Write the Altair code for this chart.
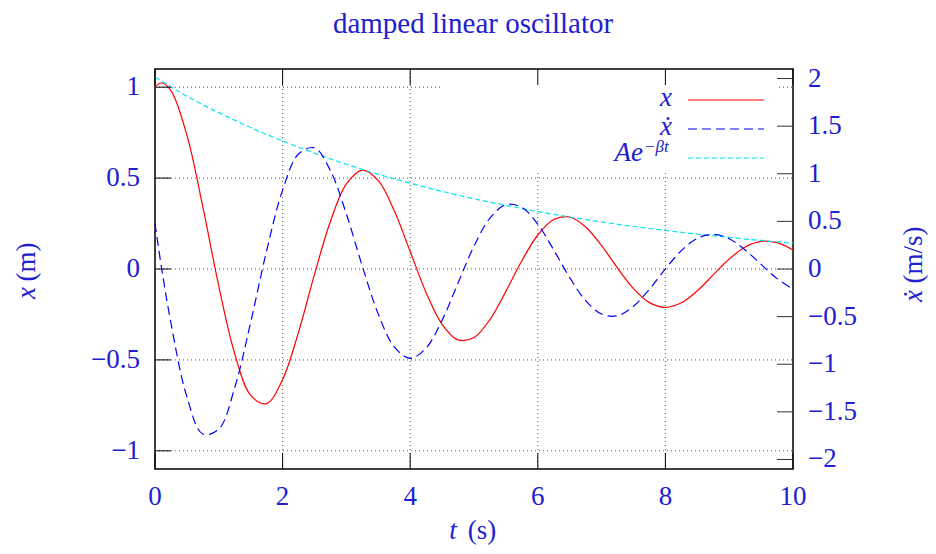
import altair as alt
import pandas as pd

# ---- data ----
t_vals = [0, 0.1, 0.25, 0.5, 0.75, 1.0, 1.25, 1.5, 1.75, 2.0, 2.25, 2.5, 2.75, 3.0,
          3.25, 3.5, 3.75, 4.0, 4.25, 4.5, 4.75, 5.0, 5.25, 5.5, 5.75, 6.0, 6.25,
          6.5, 6.75, 7.0, 7.25, 7.5, 7.75, 8.0, 8.25, 8.5, 8.75, 9.0, 9.25, 9.5,
          9.75, 10.0]
x_vals = [1.000, 1.023, 0.981, 0.736, 0.342, -0.094, -0.467, -0.695, -0.740, -0.608,
          -0.347, -0.030, 0.263, 0.468, 0.544, 0.486, 0.320, 0.096, -0.130, -0.304,
          -0.390, -0.377, -0.278, -0.123, 0.045, 0.187, 0.272, 0.286, 0.231, 0.128,
          0.005, -0.108, -0.185, -0.211, -0.186, -0.120, -0.032, 0.055, 0.121, 0.152,
          0.145, 0.105]
v_vals = [0.480, 0.023, -0.567, -1.343, -1.733, -1.682, -1.244, -0.558, 0.193, 0.828,
          1.208, 1.272, 1.032, 0.576, 0.028, -0.474, -0.818, -0.938, -0.829, -0.537,
          -0.147, 0.240, 0.534, 0.675, 0.646, 0.470, 0.200, -0.090, -0.332, -0.473,
          -0.491, -0.392, -0.212, 0.001, 0.193, 0.322, 0.364, 0.317, 0.200, 0.048,
          -0.101, -0.212]
env_t = [0, 0.5, 1, 1.5, 2, 2.5, 3, 3.5, 4, 4.5, 5, 5.5, 6, 6.5, 7, 7.5, 8, 8.5, 9, 9.5, 10]
env_vals = [1.055, 0.950, 0.860, 0.778, 0.704, 0.637, 0.576, 0.521, 0.472, 0.427, 0.386,
            0.350, 0.316, 0.286, 0.259, 0.234, 0.212, 0.192, 0.174, 0.157, 0.142]

x_ticks = [0, 2, 4, 6, 8, 10]
x_grid = [2, 4, 6, 8]
y_ticks = [-1, -0.5, 0, 0.5, 1]
y2_ticks = [-2, -1.5, -1, -0.5, 0, 0.5, 1, 1.5, 2]

title_text = "damped linear oscillator"

# ---- style ----
W, H = 638, 400
FONT = "Liberation Serif"
TXT = "#2020d0"
FS = 27
TICK = 16
GRID = "#555555"

df = pd.DataFrame({"t": t_vals, "x": x_vals, "v": v_vals})
env = pd.DataFrame({"t": env_t, "a": env_vals})
one = pd.DataFrame({"k": [0]})
xt = pd.DataFrame({"t": x_ticks})
xg = pd.DataFrame({"t": x_grid})
yt = pd.DataFrame({"y": y_ticks})
y2t = pd.DataFrame({"y": y2_ticks})

xscale = alt.Scale(domain=[0, 10], nice=False, zero=False)
yscale = alt.Scale(domain=[-1.1, 1.1], nice=False, zero=False)
y2scale = alt.Scale(domain=[-2.1, 2.1], nice=False, zero=False)

X = lambda f: alt.X(f, scale=xscale, axis=None)
Y = lambda f: alt.Y(f, scale=yscale, axis=None)
Y2 = lambda f: alt.Y(f, scale=y2scale, axis=None)

# grid (left axis + x axis)
hgrid = alt.Chart(yt).mark_rule(color=GRID, strokeWidth=1, strokeDash=[1, 3]).encode(
    y=Y("y:Q"), x=alt.value(0), x2=alt.value(W))
vgrid = alt.Chart(xg).mark_rule(color=GRID, strokeWidth=1, strokeDash=[1, 3]).encode(
    x=X("t:Q"), y=alt.value(0), y2=alt.value(H))
key_bg = alt.Chart(one).mark_rect(color="white").encode(
    x=alt.value(285), x2=alt.value(622), y=alt.value(2), y2=alt.value(103))

red = alt.Chart(df).mark_line(color="#ff0000", strokeWidth=1.2, interpolate="catmull-rom").encode(
    x=X("t:Q"), y=Y("x:Q"), order="t:Q")
cyan = alt.Chart(env).mark_line(color="#00e5ee", strokeWidth=1.2, strokeDash=[5, 3],
                                interpolate="monotone").encode(x=X("t:Q"), y=Y("a:Q"))

xticks_bottom = alt.Chart(xt).mark_rule(color="black", strokeWidth=1).encode(
    x=X("t:Q"), y=alt.value(H), y2=alt.value(H - TICK))
xticks_top = alt.Chart(xt).mark_rule(color="black", strokeWidth=1).encode(
    x=X("t:Q"), y=alt.value(0), y2=alt.value(TICK))
yticks_left = alt.Chart(yt).mark_rule(color="black", strokeWidth=1).encode(
    y=Y("y:Q"), x=alt.value(0), x2=alt.value(TICK))

lab = dict(font=FONT, fontSize=FS, color=TXT, baseline="middle")
xlabels = alt.Chart(xt).mark_text(align="center", **lab).encode(
    x=X("t:Q"), y=alt.value(H + 28), text=alt.Text("t:Q", format="~g"))
ylabels = alt.Chart(yt).mark_text(align="right", **lab).encode(
    y=Y("y:Q"), x=alt.value(-15), text=alt.Text("y:Q", format="~g"))


def txt(s, x, y, size=FS, italic=False, align="center", baseline="middle", angle=0):
    kw = dict(text=s, font=FONT, fontSize=size, color=TXT, align=align, baseline=baseline)
    if italic:
        kw["fontStyle"] = "italic"
    if angle:
        kw["angle"] = angle
    return alt.Chart(one).mark_text(**kw).encode(x=alt.value(x), y=alt.value(y))


def sample(y, color, dash=None):
    kw = dict(color=color, strokeWidth=1.2)
    if dash:
        kw["strokeDash"] = dash
    return alt.Chart(one).mark_rule(**kw).encode(x=alt.value(533), x2=alt.value(609), y=alt.value(y))


texts = [
    txt(title_text, 318, -45, size=29),
    txt("t", 298, 462, italic=True),
    txt("(s)", 327, 462),
    txt("x", -128, 224, italic=True, angle=270),
    txt("(m)", -128, 193, angle=270),
    txt("ẋ", 759, 227, italic=True, angle=270),
    txt("(m/s)", 759, 186, angle=270),
    txt("x", 517, 37, italic=True, align="right", baseline="alphabetic"),
    txt("ẋ", 517, 66, italic=True, align="right", baseline="alphabetic"),
    txt("Ae", 488, 92, italic=True, align="right", baseline="alphabetic"),
    txt("−βt", 489, 83, size=17, italic=True, align="left", baseline="alphabetic"),
]
samples = [
    sample(31, "#ff0000"),
    sample(60, "#0000ff", [9, 5]),
    sample(89, "#00e5ee", [5, 3]),
]

left = alt.layer(hgrid, vgrid, key_bg, red, cyan, xticks_bottom, xticks_top, yticks_left,
                 xlabels, ylabels, *samples, *texts)

# right-scale layers
blue = alt.Chart(df).mark_line(color="#0000ff", strokeWidth=1.2, strokeDash=[9, 5],
                               interpolate="catmull-rom").encode(
    x=X("t:Q"), y=Y2("v:Q"), order="t:Q")
yticks_right = alt.Chart(y2t).mark_rule(color="#333333", strokeWidth=1).encode(
    y=Y2("y:Q"), x=alt.value(W), x2=alt.value(W - TICK))
y2labels = alt.Chart(y2t).mark_text(align="left", **lab).encode(
    y=Y2("y:Q"), x=alt.value(W + 15), text=alt.Text("y:Q", format="~g"))
right = alt.layer(blue, yticks_right, y2labels)

chart = alt.layer(left, right).resolve_scale(y="independent").properties(
    width=W, height=H,
    padding={"left": 147, "top": 61, "right": 135, "bottom": 77},
    autosize=alt.AutoSizeParams(type="none"),
).configure_view(stroke="black", strokeWidth=1.5)

chart.save("out.html", embed_options={"renderer": "svg", "actions": False})
